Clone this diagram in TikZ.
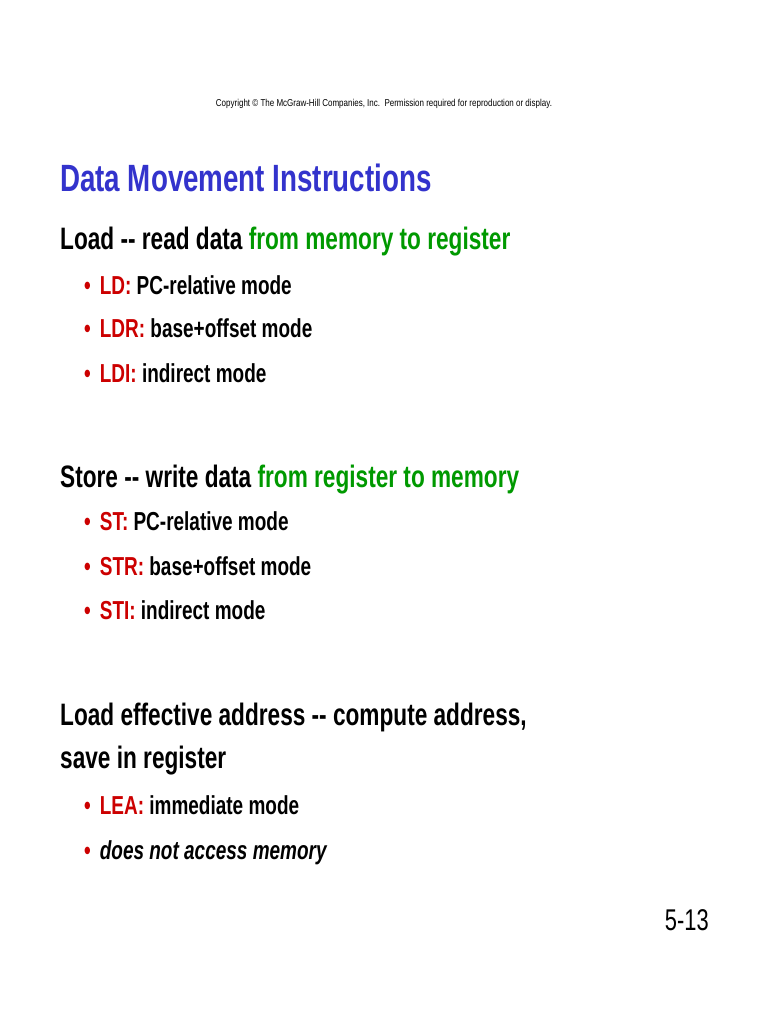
\documentclass[tikz,border=0pt]{standalone}
\usepackage{fontspec}
\setmainfont[FakeStretch=0.73]{Liberation Sans}
\newfontfamily\cpfont[FakeStretch=0.8]{Liberation Sans}
\definecolor{ttl}{RGB}{51,51,204}
\definecolor{rd}{RGB}{204,0,0}
\definecolor{gr}{RGB}{0,153,0}
\tikzset{
 txt/.style={anchor=base west,inner sep=0pt,font=\bfseries},
 head/.style={txt,font=\fontsize{31}{36}\selectfont\bfseries},
 item/.style={txt,font=\fontsize{26}{30}\selectfont\bfseries},
}
\newcommand{\bul}{\textcolor{rd}{\fontsize{26}{26}\selectfont\textbullet}\hspace{9pt}}
\begin{document}
\begin{tikzpicture}[x=1pt,y=-1pt]
\useasboundingbox (0,0) rectangle (768,1024);
\node[anchor=base,inner sep=0pt,font=\cpfont\fontsize{10}{12}\selectfont] (c) at (384,107) {Copyright © The McGraw-Hill Companies, Inc.\ \ Permission required for reproduction or display.};
\node[txt,font=\fontsize{38}{44}\selectfont\bfseries,text=ttl] (t) at (60,192) {Data Movement Instructions};
\node[head] (h1) at (60,249) {Load -{}- read data \textcolor{gr}{from memory to register}};
\node[item] (a1) at (84,294) {\bul\textcolor{rd}{LD:} PC-relative mode};
\node[item] (a2) at (84,337) {\bul\textcolor{rd}{LDR:} base+offset mode};
\node[item] (a3) at (84,382) {\bul\textcolor{rd}{LDI:} indirect mode};
\node[head] (h2) at (60,487) {Store -{}- write data \textcolor{gr}{from register to memory}};
\node[item] (b1) at (84,530) {\bul\textcolor{rd}{ST:} PC-relative mode};
\node[item] (b2) at (84,575) {\bul\textcolor{rd}{STR:} base+offset mode};
\node[item] (b3) at (84,619) {\bul\textcolor{rd}{STI:} indirect mode};
\node[head] (h3) at (60,725) {Load effective address -{}- compute address,};
\node[head] (h4) at (60,768) {save in register};
\node[item] (d1) at (84,814) {\bul\textcolor{rd}{LEA:} immediate mode};
\node[item] (d2) at (84,859) {\bul\textit{does not access memory}};
\node[anchor=base east,inner sep=0pt,font=\fontsize{30}{34}\selectfont] (p) at (709,930) {5-13};
\end{tikzpicture}
\end{document}
